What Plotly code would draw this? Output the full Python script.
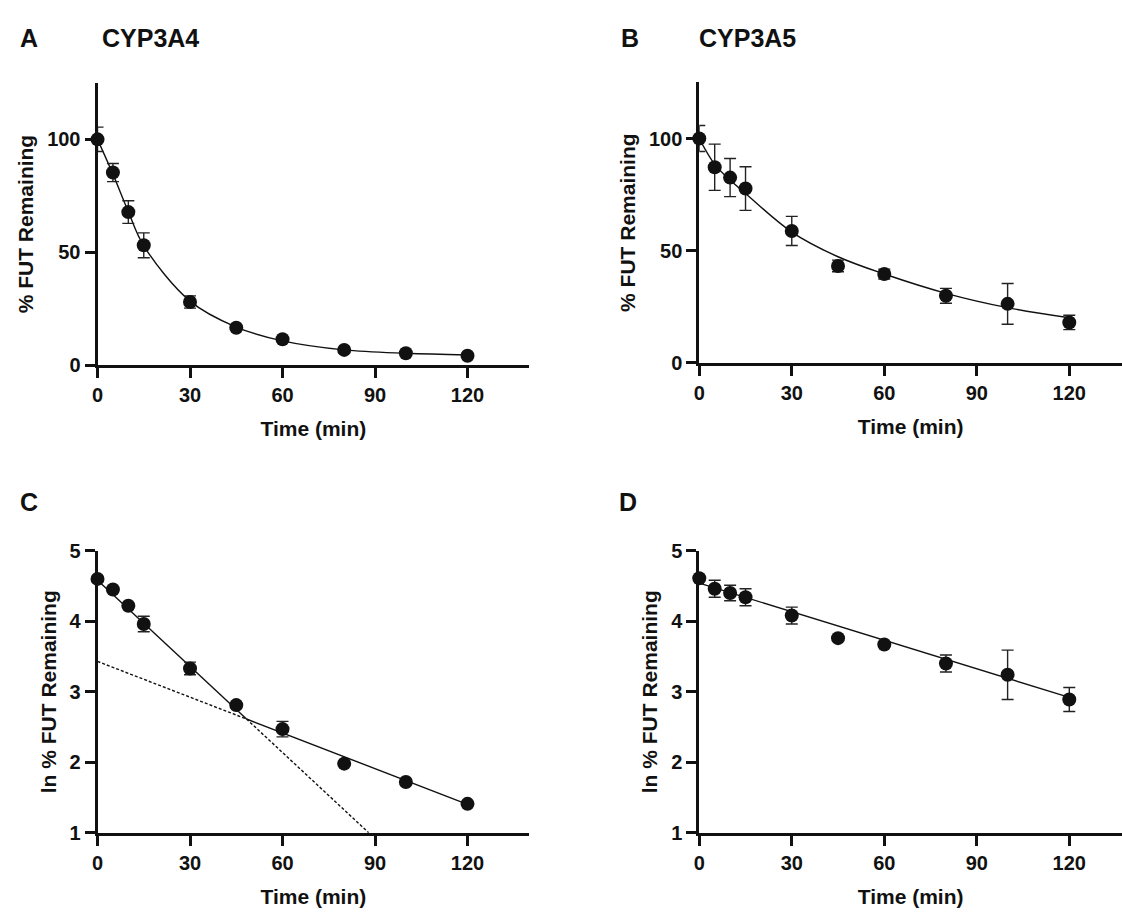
import plotly.graph_objects as go

W, H = 1122, 915

# ---------------- data ----------------
TIME = [0, 5, 10, 15, 30, 45, 60, 80, 100, 120]

# Panel A: CYP3A4 % FUT remaining
A_MEAN = [100, 85.3, 67.8, 53.1, 28.0, 16.6, 11.5, 6.8, 5.3, 4.2]
A_ERR = [5.4, 4.0, 5.0, 5.5, 2.7, 0, 0, 0, 0, 0]
A_FIT = [100, 84.6, 68.0, 52.9, 28.4, 16.9, 10.8, 6.8, 5.3, 4.6]

# Panel B: CYP3A5 % FUT remaining
B_MEAN = [100, 87.2, 82.6, 77.7, 58.8, 43.2, 39.6, 29.9, 26.3, 18.0]
B_ERR = [5.8, 10.3, 8.5, 9.7, 6.5, 2.6, 2.2, 3.3, 9.1, 3.2]
B_FIT = [100, 88.5, 81.5, 75.5, 58.3, 47.3, 39.6, 31.0, 24.6, 20.1]

# Panel C: CYP3A4 ln % FUT remaining
C_MEAN = [4.60, 4.45, 4.22, 3.96, 3.33, 2.81, 2.47, 1.98, 1.72, 1.41]
C_ERR = [0, 0, 0, 0.11, 0.09, 0, 0.11, 0, 0, 0]
C_FAST_INTERCEPT, C_FAST_SLOPE = 4.58, -0.0407
C_SLOW_INTERCEPT, C_SLOW_SLOPE = 3.43, -0.0169

# Panel D: CYP3A5 ln % FUT remaining
D_MEAN = [4.61, 4.46, 4.40, 4.34, 4.08, 3.76, 3.67, 3.40, 3.24, 2.89]
D_ERR = [0, 0.12, 0.11, 0.12, 0.12, 0, 0, 0.12, 0.35, 0.17]
D_INTERCEPT, D_SLOPE = 4.54, -0.0135

X_TICKS = [0, 30, 60, 90, 120]
PCT_TICKS = [0, 50, 100]
LN_TICKS = [1, 2, 3, 4, 5]

# ---------------- helpers ----------------
FONT = "Liberation Sans, Arial, sans-serif"
BLACK = "#111111"


def fx(px):
    return px / W


def fy(py):
    return 1 - py / H


fig = go.Figure()


def add_points(xa, ya, y, err):
    fig.add_trace(go.Scatter(
        x=TIME, y=y, mode="markers", xaxis=xa, yaxis=ya,
        marker=dict(size=14, color=BLACK),
        error_y=dict(type="data", array=err, visible=True, color="#222222",
                     thickness=1.4, width=6),
        cliponaxis=False, showlegend=False))


def add_line(xa, ya, x, y, dash="solid", shape="linear"):
    fig.add_trace(go.Scatter(
        x=x, y=y, mode="lines", xaxis=xa, yaxis=ya,
        line=dict(color=BLACK, width=1.4, dash=dash, shape=shape, smoothing=1.0),
        cliponaxis=False, showlegend=False, hoverinfo="skip"))


# Panel A
add_line("x", "y", TIME, A_FIT, shape="spline")
add_points("x", "y", A_MEAN, A_ERR)
# Panel B
add_line("x2", "y2", TIME, B_FIT, shape="spline")
add_points("x2", "y2", B_MEAN, B_ERR)

# Panel C: two regression lines, solid where they fit, dashed where extrapolated
t_cross = (C_SLOW_INTERCEPT - C_FAST_INTERCEPT) / (C_FAST_SLOPE - C_SLOW_SLOPE)
t_fast_end = (1 - C_FAST_INTERCEPT) / C_FAST_SLOPE


def c_fast(t):
    return C_FAST_INTERCEPT + C_FAST_SLOPE * t


def c_slow(t):
    return C_SLOW_INTERCEPT + C_SLOW_SLOPE * t


add_line("x3", "y3", [0, t_cross], [c_fast(0), c_fast(t_cross)])
add_line("x3", "y3", [t_cross, t_fast_end], [c_fast(t_cross), c_fast(t_fast_end)], dash="3px,2px")
add_line("x3", "y3", [0, t_cross], [c_slow(0), c_slow(t_cross)], dash="3px,2px")
add_line("x3", "y3", [t_cross, TIME[-1]], [c_slow(t_cross), c_slow(TIME[-1])])
add_points("x3", "y3", C_MEAN, C_ERR)

# Panel D
add_line("x4", "y4", [0, TIME[-1]], [D_INTERCEPT, D_INTERCEPT + D_SLOPE * TIME[-1]])
add_points("x4", "y4", D_MEAN, D_ERR)

# ---------------- axes ----------------
tickfont = dict(family=FONT, size=20, color=BLACK, weight="bold")
titlefont = dict(family=FONT, size=21, color=BLACK, weight="bold")

common_x = dict(showline=True, linecolor=BLACK, linewidth=3, ticks="outside",
                ticklen=10, tickwidth=3, tickcolor=BLACK, showgrid=False,
                zeroline=False, tickvals=X_TICKS, tickfont=tickfont,
                title=dict(text="Time (min)", font=titlefont, standoff=17))
common_y = dict(showline=True, linecolor=BLACK, linewidth=3, ticks="outside",
                ticklen=10, tickwidth=3, tickcolor=BLACK, showgrid=False,
                zeroline=False, tickfont=tickfont)

# pixel geometry (reference picture)
PPM = 3.1                      # pixels per minute
LEFT_X0 = 92
RIGHT_X0 = 697
RIGHT_XMAX = (W - RIGHT_X0) / PPM

A_Y0, A_PPU = 363, (363 - 131.5) / 100
B_Y0, B_PPU = 360.5, (360.5 - 130.7) / 100
LN_Y1, LN_Y5 = 842, 553

fig.update_layout(
    width=W, height=H,
    margin=dict(l=0, r=0, t=0, b=0),
    paper_bgcolor="white", plot_bgcolor="white",
    xaxis=dict(common_x, domain=[fx(LEFT_X0), fx(LEFT_X0 + 140 * PPM)], range=[0, 140], anchor="y"),
    yaxis=dict(common_y, domain=[fy(A_Y0), fy(A_Y0 - 125 * A_PPU)], range=[0, 125],
               tickvals=PCT_TICKS, anchor="x",
               title=dict(text="% FUT Remaining", font=titlefont, standoff=8)),
    xaxis2=dict(common_x, domain=[fx(RIGHT_X0), 1.0], range=[0, RIGHT_XMAX], anchor="y2"),
    yaxis2=dict(common_y, domain=[fy(B_Y0), fy(B_Y0 - 125 * B_PPU)], range=[0, 125],
                tickvals=PCT_TICKS, anchor="x2",
                title=dict(text="% FUT Remaining", font=titlefont, standoff=8)),
    xaxis3=dict(common_x, domain=[fx(LEFT_X0), fx(LEFT_X0 + 140 * PPM)], range=[0, 140], anchor="y3"),
    yaxis3=dict(common_y, domain=[fy(LN_Y1), fy(LN_Y5)], range=[1, 5],
                tickvals=LN_TICKS, anchor="x3",
                title=dict(text="ln % FUT Remaining", font=titlefont, standoff=8)),
    xaxis4=dict(common_x, domain=[fx(RIGHT_X0), 1.0], range=[0, RIGHT_XMAX], anchor="y4"),
    yaxis4=dict(common_y, domain=[fy(LN_Y1), fy(LN_Y5)], range=[1, 5],
                tickvals=LN_TICKS, anchor="x4",
                title=dict(text="ln % FUT Remaining", font=titlefont, standoff=8)),
)

letter_font = dict(family=FONT, size=25, color=BLACK, weight="bold")
name_font = dict(family=FONT, size=25, color=BLACK, weight="bold")
annotations = [
    dict(text="A", x=fx(12), y=fy(28), font=letter_font),
    dict(text="CYP3A4", x=fx(95), y=fy(28), font=name_font),
    dict(text="B", x=fx(616), y=fy(28), font=letter_font),
    dict(text="CYP3A5", x=fx(695), y=fy(28), font=name_font),
    dict(text="C", x=fx(12), y=fy(503), font=letter_font),
    dict(text="D", x=fx(614), y=fy(503), font=letter_font),
]
for a in annotations:
    a.update(xref="paper", yref="paper", xanchor="left", yanchor="middle", showarrow=False)
fig.update_layout(annotations=annotations)

fig.write_html("out.html", config={"displayModeBar": False},
               post_script="document.body.style.margin='0';document.body.style.overflow='hidden';")
